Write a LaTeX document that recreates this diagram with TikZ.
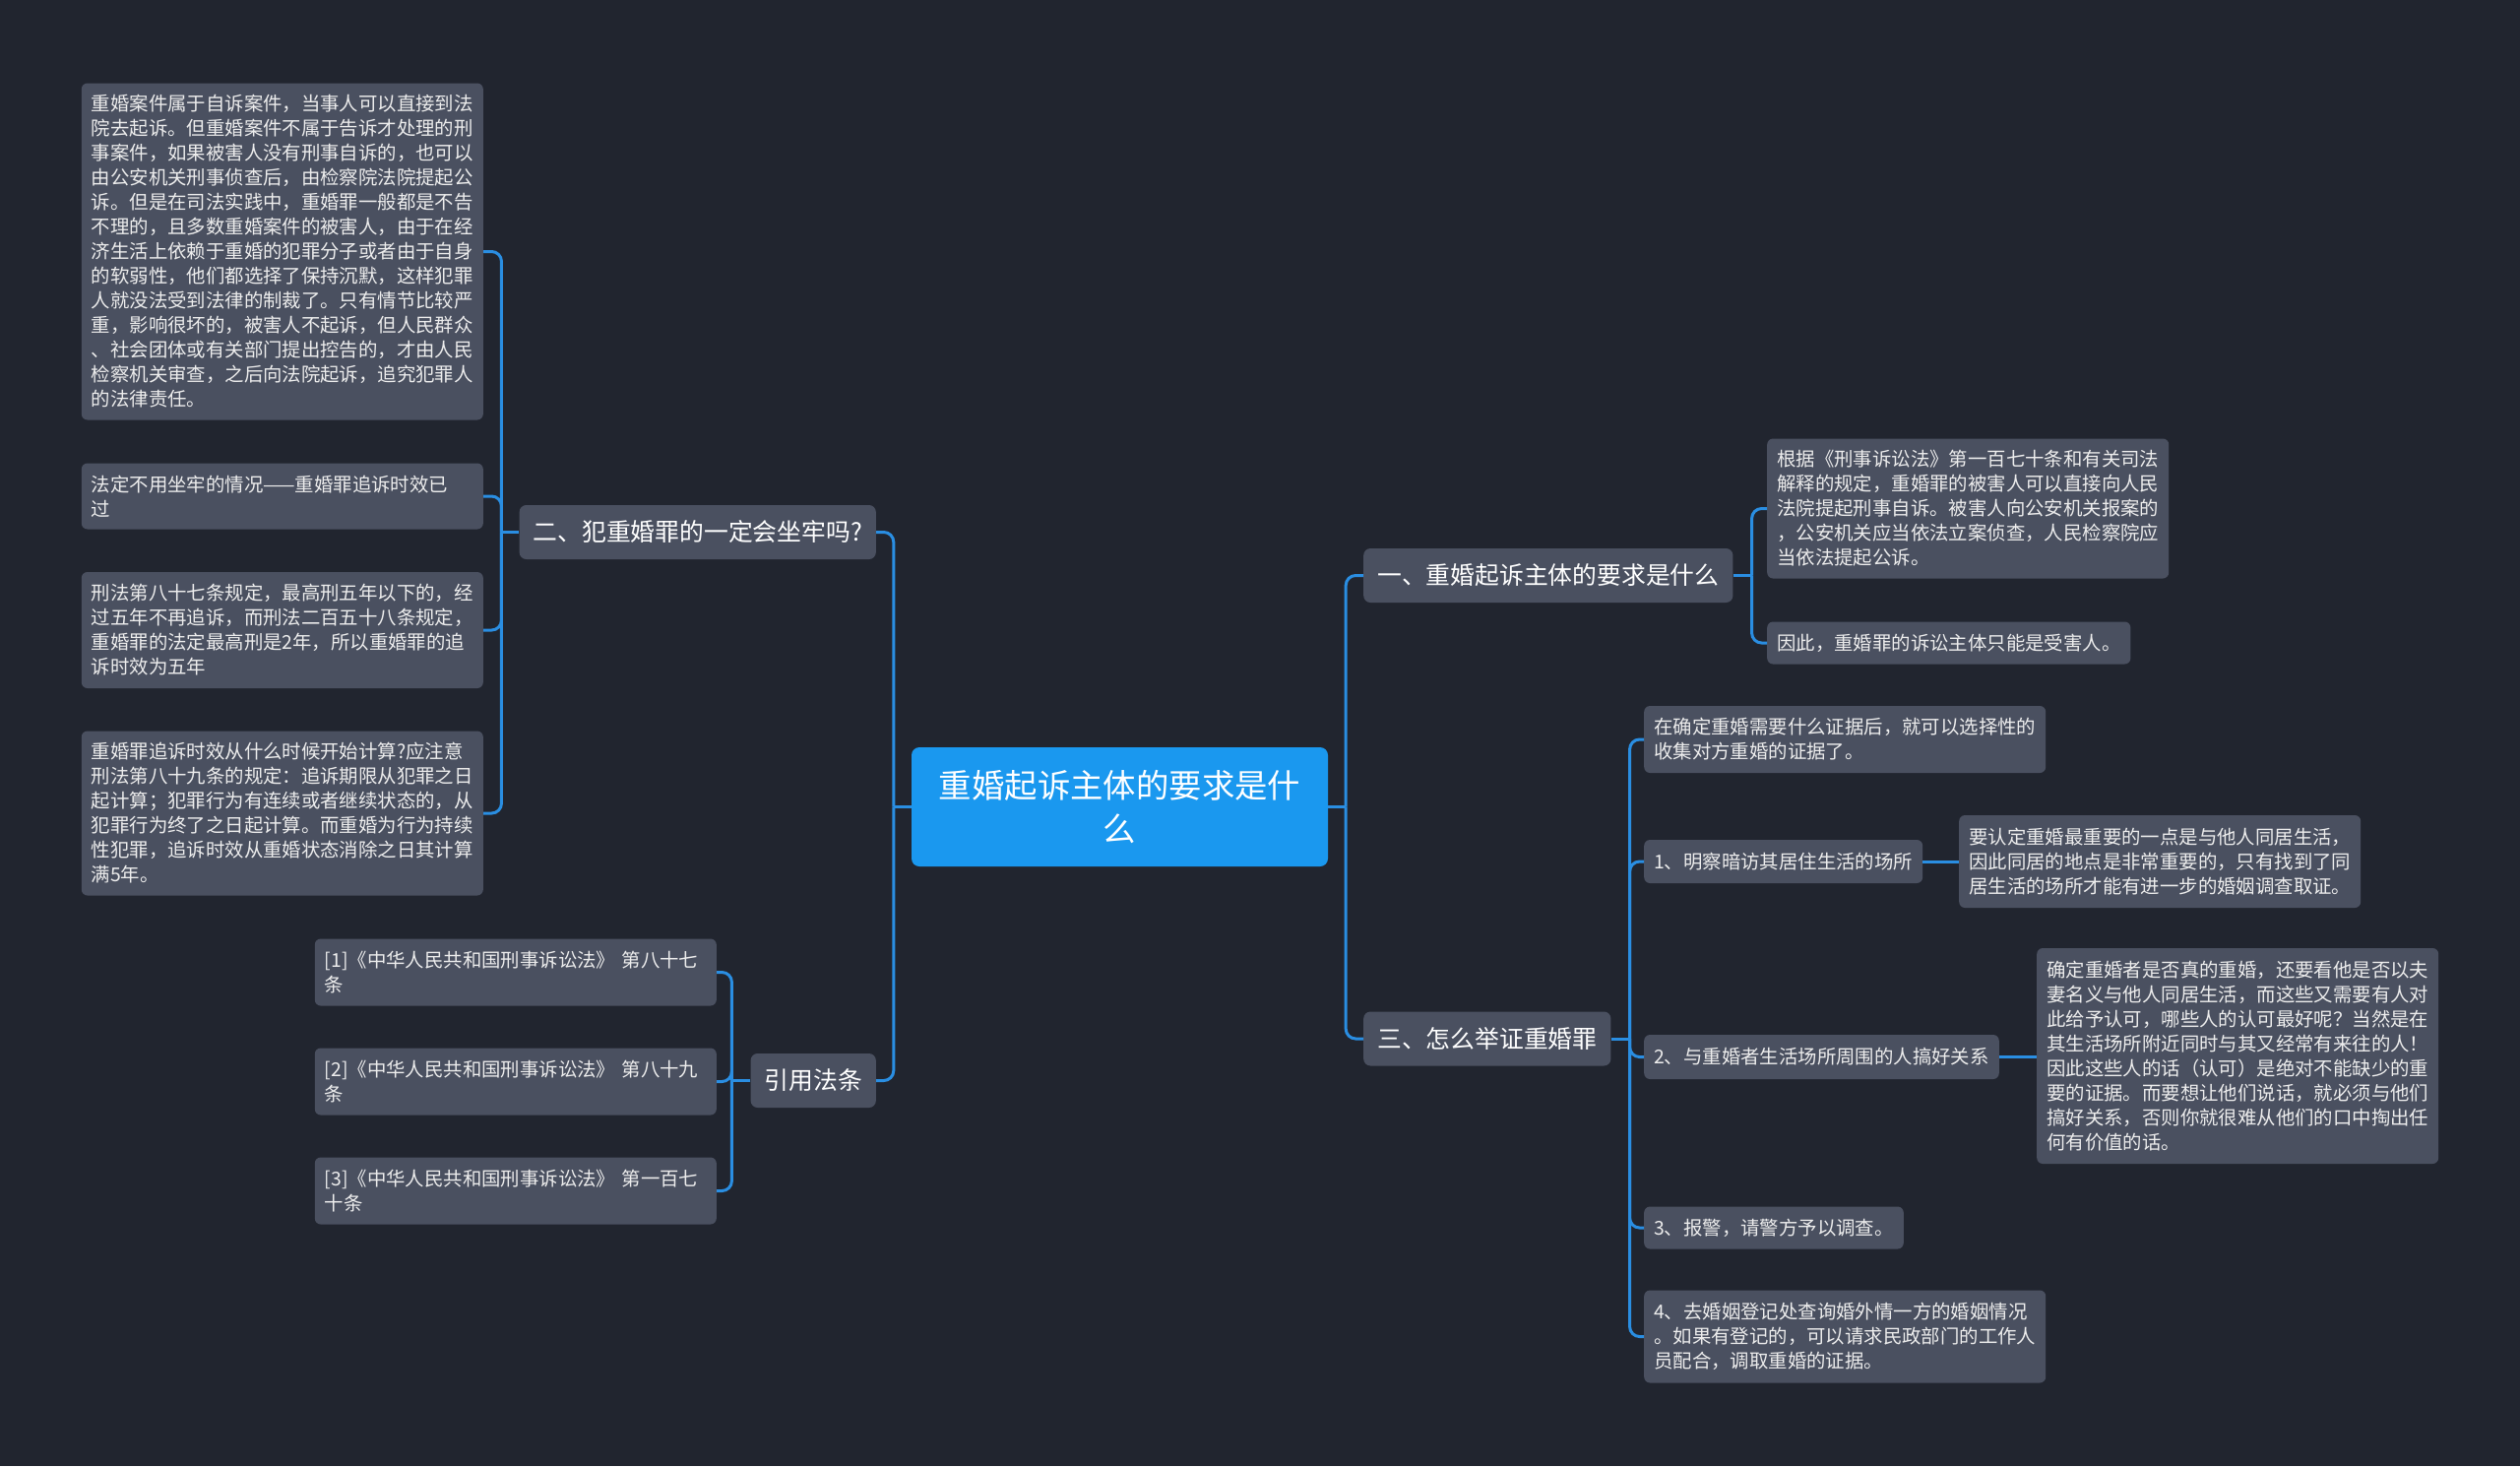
\documentclass[tikz,border=0pt]{standalone}
\usepackage{fontspec}
\setmainfont{Noto Sans CJK SC}
\definecolor{bg}{HTML}{21252F}
\definecolor{nodefill}{HTML}{4A5060}
\definecolor{rootfill}{HTML}{1A98EF}
\definecolor{linecol}{HTML}{2A8EE2}
\definecolor{leaftext}{HTML}{EDEDED}
\begin{document}
\begin{tikzpicture}[x=1pt,y=-1pt,
  leaf/.style={fill=nodefill, rounded corners=6pt, text=leaftext, font=\fontsize{19.4pt}{25pt}\selectfont, align=left, inner xsep=10pt, inner ysep=0pt},
  wide/.style={text width=388pt},
  branch/.style={fill=nodefill, rounded corners=7pt, text=white, font=\fontsize{24.8pt}{30pt}\selectfont, inner xsep=14pt, inner ysep=0pt, minimum height=55pt},
  root/.style={fill=rootfill, rounded corners=8pt, text=white, font=\fontsize{33.4pt}{44pt}\selectfont, align=center, minimum width=423pt, minimum height=121pt, inner sep=0pt},
  conn/.style={draw=linecol, line width=3pt, rounded corners=10pt}]
\fill[bg] (0,0) rectangle (2560,1489);
\useasboundingbox (0,0) rectangle (2560,1489);

% root
\node[root] (C) at (1137.5,819.5) {重婚起诉主体的要求是什\\么};

% branches
\node[branch, anchor=east] (N2) at (890,540.5) {二、犯重婚罪的一定会坐牢吗?};
\node[branch, anchor=east] (NR) at (890,1097.5) {引用法条};
\node[branch, anchor=west] (N1) at (1385,584.5) {一、重婚起诉主体的要求是什么};
\node[branch, anchor=west] (N3) at (1385,1055) {三、怎么举证重婚罪};

% left leaves
\node[leaf, wide, anchor=east, minimum height=342pt] (L1) at (491,255.5) {重婚案件属于自诉案件，当事人可以直接到法\\院去起诉。但重婚案件不属于告诉才处理的刑\\事案件，如果被害人没有刑事自诉的，也可以\\由公安机关刑事侦查后，由检察院法院提起公\\诉。但是在司法实践中，重婚罪一般都是不告\\不理的，且多数重婚案件的被害人，由于在经\\济生活上依赖于重婚的犯罪分子或者由于自身\\的软弱性，他们都选择了保持沉默，这样犯罪\\人就没法受到法律的制裁了。只有情节比较严\\重，影响很坏的，被害人不起诉，但人民群众\\、社会团体或有关部门提出控告的，才由人民\\检察机关审查，之后向法院起诉，追究犯罪人\\的法律责任。};
\node[leaf, wide, anchor=east, minimum height=67pt] (L2) at (491,504) {法定不用坐牢的情况——重婚罪追诉时效已\\过};
\node[leaf, wide, anchor=east, minimum height=118pt] (L3) at (491,640) {刑法第八十七条规定，最高刑五年以下的，经\\过五年不再追诉，而刑法二百五十八条规定，\\重婚罪的法定最高刑是2年，所以重婚罪的追\\诉时效为五年};
\node[leaf, wide, anchor=east, minimum height=167pt] (L4) at (491,826) {重婚罪追诉时效从什么时候开始计算?应注意\\刑法第八十九条的规定：追诉期限从犯罪之日\\起计算；犯罪行为有连续或者继续状态的，从\\犯罪行为终了之日起计算。而重婚为行为持续\\性犯罪，追诉时效从重婚状态消除之日其计算\\满5年。};

\node[leaf, wide, anchor=east, minimum height=68pt] (R1) at (728,987.5) {[1]《中华人民共和国刑事诉讼法》 第八十七\\条};
\node[leaf, wide, anchor=east, minimum height=68pt] (R2) at (728,1098.5) {[2]《中华人民共和国刑事诉讼法》 第八十九\\条};
\node[leaf, wide, anchor=east, minimum height=68pt] (R3) at (728,1209.5) {[3]《中华人民共和国刑事诉讼法》 第一百七\\十条};

% right leaves
\node[leaf, wide, anchor=west, minimum height=142pt] (A1) at (1795,516.5) {根据《刑事诉讼法》第一百七十条和有关司法\\解释的规定，重婚罪的被害人可以直接向人民\\法院提起刑事自诉。被害人向公安机关报案的\\，公安机关应当依法立案侦查，人民检察院应\\当依法提起公诉。};
\node[leaf, anchor=west, minimum height=43pt] (A2) at (1795,653) {因此，重婚罪的诉讼主体只能是受害人。};

\node[leaf, wide, anchor=west, minimum height=68pt] (B0) at (1670,751) {在确定重婚需要什么证据后，就可以选择性的\\收集对方重婚的证据了。};
\node[leaf, anchor=west, minimum height=44pt] (B1) at (1670,875) {1、明察暗访其居住生活的场所};
\node[leaf, wide, anchor=west, minimum height=94pt] (B1c) at (1990,875) {要认定重婚最重要的一点是与他人同居生活，\\因此同居的地点是非常重要的，只有找到了同\\居生活的场所才能有进一步的婚姻调查取证。};
\node[leaf, anchor=west, minimum height=45pt] (B2) at (1670,1073.5) {2、与重婚者生活场所周围的人搞好关系};
\node[leaf, wide, anchor=west, minimum height=219pt] (B2c) at (2069,1072.5) {确定重婚者是否真的重婚，还要看他是否以夫\\妻名义与他人同居生活，而这些又需要有人对\\此给予认可，哪些人的认可最好呢？当然是在\\其生活场所附近同时与其又经常有来往的人！\\因此这些人的话（认可）是绝对不能缺少的重\\要的证据。而要想让他们说话，就必须与他们\\搞好关系，否则你就很难从他们的口中掏出任\\何有价值的话。};
\node[leaf, anchor=west, minimum height=43pt] (B3) at (1670,1247) {3、报警，请警方予以调查。};
\node[leaf, wide, anchor=west, minimum height=94pt] (B4) at (1670,1357.5) {4、去婚姻登记处查询婚外情一方的婚姻情况\\。如果有登记的，可以请求民政部门的工作人\\员配合，调取重婚的证据。};

% connectors: root
\coordinate (cl) at ([xshift=-18pt]C.west);
\coordinate (cr) at ([xshift=18pt]C.east);
\draw[conn] (C.west) -- (cl);
\draw[conn] (cl) |- (N2.east);
\draw[conn] (cl) |- (NR.east);
\draw[conn] (C.east) -- (cr);
\draw[conn] (cr) |- (N1.west);
\draw[conn] (cr) |- (N3.west);

% branch 2
\coordinate (b2) at ([xshift=-18pt]N2.west);
\draw[conn] (N2.west) -- (b2);
\foreach \n in {L1,L2,L3,L4} \draw[conn] (b2) |- (\n.east);

% citations
\coordinate (br) at ([xshift=-19pt]NR.west);
\draw[conn] (NR.west) -- (br);
\foreach \n in {R1,R2,R3} \draw[conn] (br) |- (\n.east);

% branch 1
\coordinate (b1) at ([xshift=19pt]N1.east);
\draw[conn] (N1.east) -- (b1);
\foreach \n in {A1,A2} \draw[conn] (b1) |- (\n.west);

% branch 3
\coordinate (b3) at ([xshift=19pt]N3.east);
\draw[conn] (N3.east) -- (b3);
\foreach \n in {B0,B1,B2,B3,B4} \draw[conn] (b3) |- (\n.west);
\draw[conn] (B1.east) -- (B1.east -| B1c.west);
\draw[conn] (B2.east) -- (B2.east -| B2c.west);
\end{tikzpicture}
\end{document}
